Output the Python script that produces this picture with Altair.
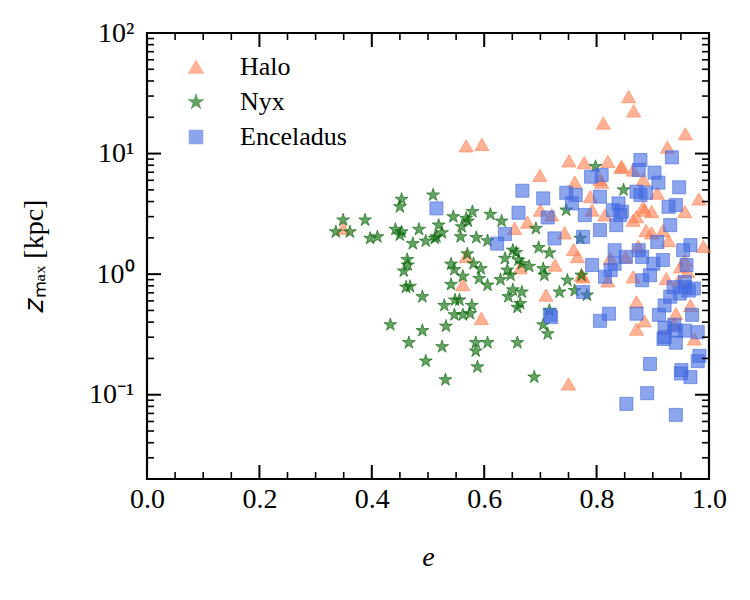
import altair as alt
import pandas as pd

# ---- data ----
halo_e = [0.857, 0.866, 0.812, 0.958, 0.568, 0.596, 0.926, 0.751, 0.778, 0.820, 0.845, 0.699,
          0.761, 0.809, 0.865, 0.908, 0.982, 0.789, 0.700, 0.720, 0.792, 0.885, 0.898, 0.957,
          0.865, 0.677, 0.654, 0.743, 0.888, 0.898, 0.918, 0.928, 0.990, 0.759, 0.766, 0.568,
          0.726, 0.664, 0.824, 0.852, 0.949, 0.776, 0.820, 0.865, 0.562, 0.710, 0.871, 0.924,
          0.967, 0.941, 0.595, 0.885, 0.871, 0.974, 0.750, 0.349, 0.773, 0.938, 0.957, 0.843,
          0.883, 0.806, 0.883, 0.871, 0.815, 0.874, 0.946, 0.962]
halo_z = [29.7, 22.6, 17.9, 14.6, 11.6, 11.9, 11.3, 8.7, 8.4, 8.6, 7.8, 6.6,
          5.8, 5.8, 7.3, 4.7, 4.2, 4.4, 3.4, 3.1, 3.4, 3.4, 3.3, 3.3,
          2.8, 2.7, 2.4, 2.2, 2.3, 2.2, 2.3, 1.9, 1.7, 1.6, 1.4, 1.4,
          1.19, 1.13, 1.35, 1.39, 1.15, 0.95, 0.88, 0.95, 0.82, 0.67, 0.59, 0.92,
          0.55, 0.47, 0.43, 0.41, 0.35, 0.29, 0.123, 2.4, 0.98, 0.39, 1.31, 7.7,
          6.1, 6.1, 3.6, 3.0, 3.1, 1.7, 0.88, 1.05]

nyx_e = [0.336, 0.349, 0.361, 0.388, 0.397, 0.410, 0.442, 0.453, 0.450, 0.450, 0.473, 0.484,
         0.496, 0.509, 0.515, 0.519, 0.512, 0.545, 0.558, 0.568, 0.579, 0.586, 0.611, 0.631,
         0.606, 0.463, 0.464, 0.457, 0.461, 0.468, 0.490, 0.541, 0.547, 0.570, 0.581, 0.594,
         0.562, 0.591, 0.606, 0.541, 0.548, 0.529, 0.556, 0.578, 0.547, 0.562, 0.575, 0.433,
         0.490, 0.466, 0.532, 0.525, 0.585, 0.585, 0.606, 0.496, 0.588, 0.531, 0.659, 0.689,
         0.629, 0.637, 0.651, 0.657, 0.667, 0.641, 0.647, 0.680, 0.697, 0.716, 0.705, 0.707,
         0.643, 0.651, 0.667, 0.659, 0.664, 0.692, 0.734, 0.748, 0.761, 0.773, 0.783, 0.771,
         0.746, 0.798, 0.848, 0.716, 0.705, 0.713, 0.560, 0.571, 0.661, 0.453, 0.525]
nyx_z = [2.24, 2.81, 2.24, 2.81, 1.98, 2.04, 2.35, 4.17, 3.62, 2.11, 1.79, 2.35,
         1.88, 4.53, 2.04, 2.55, 1.98, 2.99, 2.04, 2.90, 3.30, 2.01, 3.13, 2.75,
         1.89, 1.32, 1.19, 1.06, 0.78, 0.79, 0.65, 1.21, 1.09, 1.47, 1.22, 1.11,
         0.96, 0.92, 0.81, 0.82, 0.61, 0.55, 0.61, 0.55, 0.46, 0.46, 0.47, 0.38,
         0.34, 0.27, 0.37, 0.25, 0.27, 0.23, 0.27, 0.19, 0.17, 0.133, 0.27, 0.14,
         0.90, 1.35, 1.58, 1.51, 1.22, 1.08, 0.98, 1.16, 1.66, 1.50, 1.11, 0.98,
         0.65, 0.74, 0.71, 0.53, 0.57, 2.39, 0.71, 0.89, 0.73, 0.98, 0.67, 1.98,
         3.40, 7.80, 4.99, 0.50, 0.38, 0.32, 2.47, 2.75, 1.31, 2.24, 2.2]

enc_e = [0.941, 0.853, 0.890, 0.895, 0.951, 0.950, 0.967, 0.980, 0.983, 0.919, 0.941, 0.941,
         0.921, 0.957, 0.980, 0.911, 0.921, 0.970, 0.871, 0.806, 0.822, 0.717, 0.719, 0.937,
         0.957, 0.948, 0.964, 0.931, 0.957, 0.776, 0.881, 0.815, 0.825, 0.832, 0.792, 0.895,
         0.901, 0.918, 0.960, 0.967, 0.954, 0.881, 0.875, 0.832, 0.908, 0.852, 0.806, 0.776,
         0.725, 0.623, 0.637, 0.661, 0.713, 0.705, 0.668, 0.515, 0.746, 0.763, 0.756, 0.779,
         0.806, 0.839, 0.842, 0.835, 0.829, 0.878, 0.875, 0.903, 0.910, 0.934, 0.947, 0.871,
         0.888, 0.878, 0.928, 0.941, 0.931, 0.790, 0.809, 0.845, 0.973, 0.938, 0.921]
enc_z = [0.068, 0.084, 0.103, 0.18, 0.16, 0.15, 0.14, 0.19, 0.21, 0.29, 0.27, 0.34,
         0.36, 0.34, 0.33, 0.46, 0.55, 0.46, 0.47, 0.41, 0.47, 0.46, 0.44, 0.78,
         0.78, 0.69, 0.73, 0.65, 0.86, 0.71, 0.89, 0.95, 1.08, 1.22, 1.19, 0.98,
         1.22, 1.31, 1.19, 1.74, 1.58, 1.39, 1.58, 1.58, 1.85, 1.39, 2.32, 2.04,
         1.98, 1.79, 2.15, 3.23, 2.95, 4.25, 4.92, 3.51, 4.73, 4.53, 3.86, 3.09,
         4.39, 3.86, 3.09, 2.55, 3.39, 8.85, 7.31, 6.95, 5.74, 9.31, 5.25, 4.83,
         4.73, 4.53, 3.62, 3.74, 2.55, 6.43, 6.64, 3.3, 0.76, 0.38, 0.30]

groups = ["Halo", "Nyx", "Enceladus"]
colors = ["#FF7F50", "#006400", "#4169E1"]
STAR = ("M0,-1L0.2245,-0.309L0.9511,-0.309L0.3633,0.118L0.5878,0.809L0,0.382"
        "L-0.5878,0.809L-0.3633,0.118L-0.9511,-0.309L-0.2245,-0.309Z")
shapes = ["triangle-up", STAR, "square"]
sizes = [200, 170, 170]

x_major = [0.0, 0.2, 0.4, 0.6, 0.8, 1.0]
x_minor = [0.05, 0.1, 0.15, 0.25, 0.3, 0.35, 0.45, 0.5, 0.55, 0.65, 0.7, 0.75, 0.85, 0.9, 0.95]
y_major = [0.1, 1, 10, 100]
y_minor = [0.02, 0.03, 0.04, 0.05, 0.06, 0.07, 0.08, 0.09,
           0.2, 0.3, 0.4, 0.5, 0.6, 0.7, 0.8, 0.9,
           2, 3, 4, 5, 6, 7, 8, 9,
           20, 30, 40, 50, 60, 70, 80, 90]

X_MIN, X_MAX = 0.0, 1.0
Y_MIN, Y_MAX = 0.02, 100

df = pd.concat([
    pd.DataFrame({"e": halo_e, "z": halo_z, "group": "Halo"}),
    pd.DataFrame({"e": nyx_e, "z": nyx_z, "group": "Nyx"}),
    pd.DataFrame({"e": enc_e, "z": enc_z, "group": "Enceladus"}),
], ignore_index=True)

FONT = "Liberation Serif"
MAJ, MIN = 14, 7
MAJ_W, MIN_W = 2.0, 1.6

xscale = alt.Scale(domain=[X_MIN, X_MAX], nice=False, zero=False)
yscale = alt.Scale(type="log", domain=[Y_MIN, Y_MAX], nice=False)

points = alt.Chart(df).mark_point(filled=True, fillOpacity=0.6, strokeOpacity=0.6, strokeWidth=1).encode(
    x=alt.X("e:Q", scale=xscale, axis=alt.Axis(
        orient="bottom", values=x_major, format=".1f", ticks=False,
        domain=False, grid=False, labelFont=FONT, labelFontSize=28,
        labelColor="black", labelPadding=6, labelFlush=False, labelOverlap=False,
        title="e", titleFont=FONT, titleFontSize=28, titleFontStyle="italic",
        titleFontWeight="normal", titleColor="black", titlePadding=30)),
    y=alt.Y("z:Q", scale=yscale, axis=alt.Axis(
        orient="left", values=y_major, ticks=False,
        domain=False, grid=False, labelFont=FONT, labelFontSize=28,
        labelColor="black", labelPadding=13, labelOverlap=False, labelFlush=False,
        labelExpr="datum.value >= 99 ? '10²' : datum.value >= 9 ? '10¹' : datum.value >= 0.9 ? '10⁰' : '10⁻¹'",
        title="𝑧ₘₐₓ [kpc]", titleFont=FONT, titleFontSize=28, titleFontWeight="normal",
        titleColor="black", titlePadding=40)),
    color=alt.Color("group:N", scale=alt.Scale(domain=groups, range=colors),
                    legend=alt.Legend(title=None, orient="none", legendX=36, legendY=21,
                                      labelFont=FONT, labelFontSize=26, labelColor="black",
                                      symbolSize=180, symbolOpacity=0.6, labelOffset=31,
                                      rowPadding=9, padding=0)),
    shape=alt.Shape("group:N", scale=alt.Scale(domain=groups, range=shapes)),
    size=alt.Size("group:N", scale=alt.Scale(domain=groups, range=sizes), legend=None),
    stroke=alt.Stroke("group:N", scale=alt.Scale(domain=groups, range=colors), legend=None),
)


def xticks(vals, at, offset, length, width):
    return alt.Chart(pd.DataFrame({"v": vals})).mark_tick(
        orient="vertical", size=length, thickness=width, color="black", opacity=1, yOffset=offset
    ).encode(
        x=alt.X("v:Q", scale=xscale, axis=None),
        y=alt.YDatum(at, type="quantitative", scale=yscale, axis=None),
    )


def yticks(vals, at, offset, length, width):
    return alt.Chart(pd.DataFrame({"v": vals})).mark_tick(
        orient="horizontal", size=length, thickness=width, color="black", opacity=1, xOffset=offset
    ).encode(
        y=alt.Y("v:Q", scale=yscale, axis=None),
        x=alt.XDatum(at, type="quantitative", scale=xscale, axis=None),
    )


tick_layers = [
    xticks(x_major, Y_MIN, -MAJ / 2, MAJ, MAJ_W),
    xticks(x_minor, Y_MIN, -MIN / 2, MIN, MIN_W),
    xticks(x_major, Y_MAX, MAJ / 2, MAJ, MAJ_W),
    xticks(x_minor, Y_MAX, MIN / 2, MIN, MIN_W),
    yticks(y_major, X_MIN, MAJ / 2, MAJ, MAJ_W),
    yticks(y_minor, X_MIN, MIN / 2, MIN, MIN_W),
    yticks(y_major, X_MAX, -MAJ / 2, MAJ, MAJ_W),
    yticks(y_minor, X_MAX, -MIN / 2, MIN, MIN_W),
]

chart = alt.layer(points, *tick_layers).resolve_axis(
    x="independent", y="independent"
).properties(
    width=562, height=446,
    autosize=alt.AutoSizeParams(type="none"),
    padding={"left": 147, "top": 33, "right": 41, "bottom": 121},
    background="white",
).configure_view(stroke="black", strokeWidth=2.2)

chart.save("out.html", embed_options={"renderer": "svg", "actions": False})
